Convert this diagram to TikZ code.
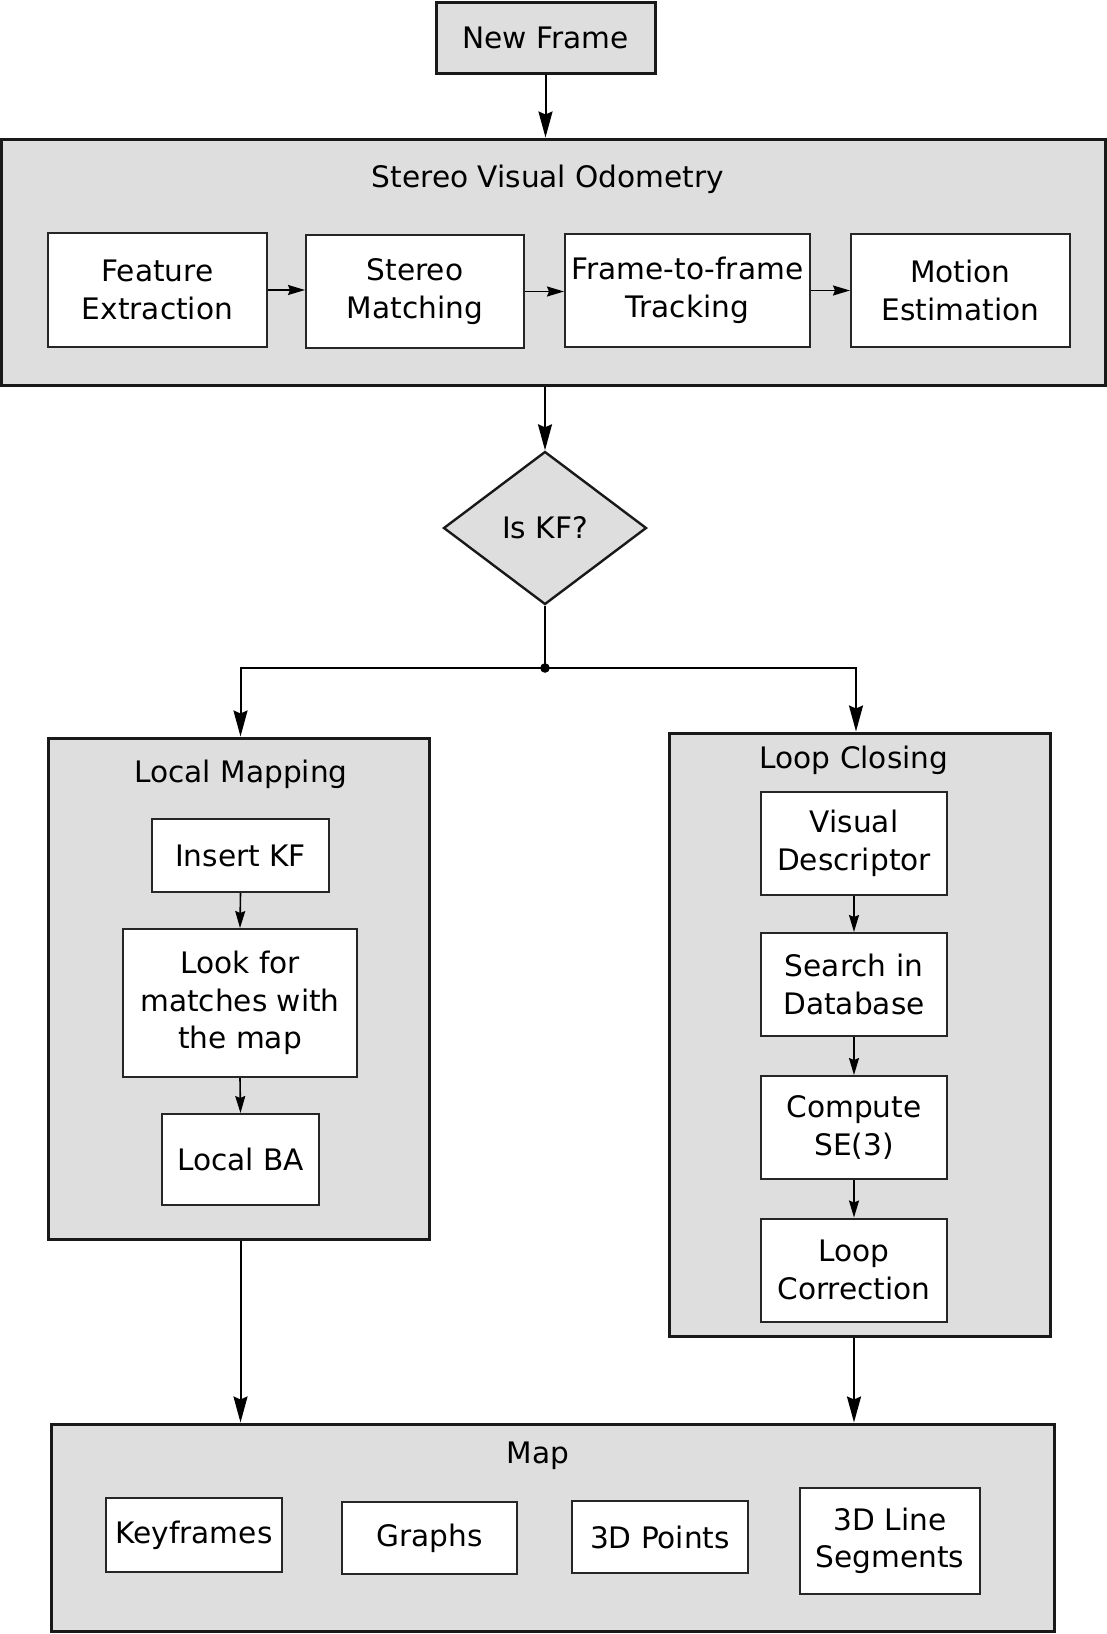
\documentclass[tikz,border=0pt]{standalone}
\usepackage{fontspec}
\setmainfont{DejaVu Sans}
\usetikzlibrary{shapes.geometric,arrows.meta}
\definecolor{boxgray}{HTML}{DEDEDE}
\begin{document}
\begin{tikzpicture}[x=0.5pt,y=-0.5pt,
  font=\fontsize{14.8}{18.7}\selectfont,
  outer/.style={draw=black!90, line width=1.5pt, fill=boxgray, inner sep=0pt},
  inbox/.style={draw=black!85, line width=1pt, fill=white, align=center, inner sep=0pt},
  ttl/.style={inner sep=0pt, align=center},
  bigarrow/.style={line width=1pt, -{Stealth[length=13pt,width=7pt,inset=1.5pt]}},
  smallarrow/.style={line width=0.8pt, -{Stealth[length=8.5pt,width=5pt,inset=1pt]}}]
\useasboundingbox (0,0) rectangle (1107,1634);
% New frame
\node[outer, minimum width=109.5pt, minimum height=35.5pt] (nf) at (545.5,37.5) {New Frame};
% Stereo VO
\node[outer, minimum width=552pt, minimum height=123pt] (svo) at (553,262) {};
\node[ttl] (svot) at (548,179) {Stereo Visual Odometry};
\node[inbox, minimum width=109.5pt, minimum height=57pt] (fe) at (157.5,290) {Feature\\Extraction};
\node[inbox, minimum width=109pt, minimum height=56.5pt] (sm) at (415,291.5) {Stereo\\Matching};
\node[inbox, minimum width=122.5pt, minimum height=56.5pt] (ff) at (687.5,290.5) {Frame-to-frame\\Tracking};
\node[inbox, minimum width=109.5pt, minimum height=56.5pt] (me) at (960.5,290.5) {Motion\\Estimation};
% Decision
\node[diamond, draw=black!90, line width=1.2pt, fill=boxgray, inner sep=0pt, minimum width=101.5pt, minimum height=76.5pt] (kf) at (545,528) {Is KF?};
\coordinate (j) at (545,668);
% Local mapping
\node[outer, minimum width=190.5pt, minimum height=250.5pt] (lm) at (238.5,988.5) {};
\node[ttl] (lmt) at (241,774) {Local Mapping};
\node[inbox, minimum width=88.5pt, minimum height=36.5pt] (ins) at (240.5,855.5) {Insert KF};
\node[inbox, minimum width=117pt, minimum height=74pt] (look) at (240,1003) {Look for\\matches with\\the map};
\node[inbox, minimum width=78.5pt, minimum height=45.5pt] (lba) at (240.5,1159.5) {Local BA};
% Loop closing
\node[outer, minimum width=190.5pt, minimum height=301.5pt] (lc) at (859.5,1034.5) {};
\node[ttl] (lct) at (854,760) {Loop Closing};
\node[inbox, minimum width=93pt, minimum height=51.5pt] (vd) at (854,843.5) {Visual\\Descriptor};
\node[inbox, minimum width=93pt, minimum height=51.5pt] (sd) at (854,984.5) {Search in\\Database};
\node[inbox, minimum width=93pt, minimum height=51.5pt] (cse) at (854,1127.5) {Compute\\SE(3)};
\node[inbox, minimum width=93pt, minimum height=51.5pt] (lcor) at (854,1270) {Loop\\Correction};
% Map
\node[outer, minimum width=501.5pt, minimum height=103.5pt] (map) at (552.5,1527.5) {};
\node[ttl] (mapt) at (538,1456) {Map};
\node[inbox, minimum width=88pt, minimum height=37pt] (kfs) at (194,1535) {Keyframes};
\node[inbox, minimum width=87.5pt, minimum height=36pt] (gr) at (429.5,1538) {Graphs};
\node[inbox, minimum width=88pt, minimum height=36pt] (pts) at (660,1537) {3D Points};
\node[inbox, minimum width=90pt, minimum height=53pt] (lines) at (890,1541) {3D Line\\Segments};
% connectors
\draw[bigarrow] (nf.south) -- (nf.south |- svo.north);
\draw[bigarrow] (kf.north |- svo.south) -- (kf.north);
\draw[line width=1pt] (kf.south) -- (j);
\fill (j) circle (2.4pt);
\draw[bigarrow] (j) -| (ins.north |- lm.north);
\draw[bigarrow] (j) -| ([xshift=1pt]vd.north |- lc.north);
\draw[smallarrow] (fe.east) -- (sm.west |- fe.east);
\draw[smallarrow] (sm.east) -- (ff.west |- sm.east);
\draw[smallarrow] (ff.east) -- (me.west |- ff.east);
\draw[smallarrow] (ins.south) -- (look.north);
\draw[smallarrow] (look.south) -- (lba.north);
\draw[smallarrow] (vd.south) -- (sd.north);
\draw[smallarrow] (sd.south) -- (cse.north);
\draw[smallarrow] (cse.south) -- (lcor.north);
\draw[bigarrow] (lba.south |- lm.south) -- (lba.south |- map.north);
\draw[bigarrow] (lcor.south |- lc.south) -- (lcor.south |- map.north);
\end{tikzpicture}
\end{document}
